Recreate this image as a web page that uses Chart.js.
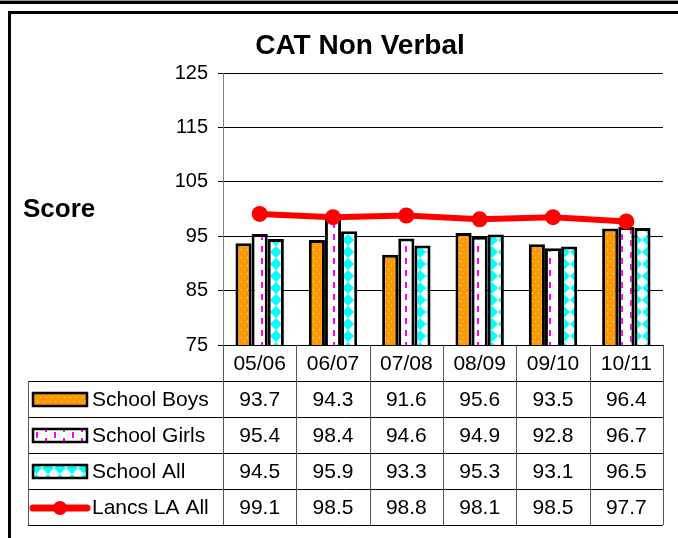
<!DOCTYPE html>
<html>
<head>
<meta charset="utf-8">
<script src="https://cdn.jsdelivr.net/npm/chart.js@4"></script>
<style>
  body { margin: 0; background: #fff; }
  #wrap { width: 678px; height: 538px; position: relative; }
</style>
</head>
<body>
<div id="wrap"><canvas id="myChart"></canvas></div>
<script>
// 数据
const years = ["05/06", "06/07", "07/08", "08/09", "09/10", "10/11"];
const schoolBoys = [93.7, 94.3, 91.6, 95.6, 93.5, 96.4];
const schoolGirls = [95.4, 98.4, 94.6, 94.9, 92.8, 96.7];
const schoolAll = [94.5, 95.9, 93.3, 95.3, 93.1, 96.5];
const lancsAll = [99.1, 98.5, 98.8, 98.1, 98.5, 97.7];
const yMin = 75;
const yMax = 125;
const yStep = 10;

Chart.defaults.font.family = "'Liberation Sans', Arial, sans-serif";
Chart.defaults.color = "#000";

// 花纹填充
function makePattern(w, h, drawFn) {
  const c = document.createElement("canvas");
  c.width = w;
  c.height = h;
  const p = c.getContext("2d");
  drawFn(p, w, h);
  return p.createPattern(c, "repeat");
}

// 橙色 + 白点
const boysFill = makePattern(6, 8, (p, w, h) => {
  p.fillStyle = "#ff9900";
  p.fillRect(0, 0, w, h);
  p.fillStyle = "#ffe6c0";
  p.fillRect(1, 1, 1, 1);
  p.fillRect(4, 5, 1, 1);
});

// 白底 + 粉色虚线
const girlsFill = makePattern(18, 12, (p, w, h) => {
  p.fillStyle = "#fff";
  p.fillRect(0, 0, w, h);
  p.fillStyle = "#ff00ff";
  p.fillRect(0, 0, 2, 6);
  p.fillRect(9, 6, 2, 6);
});

// 青色 + 白色菱形
const allFill = makePattern(12, 12, (p, w, h) => {
  p.fillStyle = "#00ffff";
  p.fillRect(0, 0, w, h);
  p.fillStyle = "#fff";
  p.beginPath();
  p.moveTo(6, 0);
  p.lineTo(12, 6);
  p.lineTo(6, 12);
  p.lineTo(0, 6);
  p.closePath();
  p.fill();
});

// 外框 + 背景
const framePlugin = {
  id: "frame",
  beforeDraw(chart) {
    const ctx = chart.ctx;
    ctx.save();
    ctx.fillStyle = "#fff";
    ctx.fillRect(0, 0, chart.width, chart.height);
    ctx.fillStyle = "#999";
    ctx.fillRect(0, 0, chart.width, 1);
    ctx.fillStyle = "#000";
    ctx.fillRect(0, 1, chart.width, 3);
    ctx.fillRect(8, 11, chart.width - 8, 3);
    ctx.fillRect(8, 11, 3, chart.height - 11);
    ctx.restore();
  },
  afterDraw(chart) {
    // Y轴标题 (水平)
    const ctx = chart.ctx;
    ctx.save();
    ctx.fillStyle = "#000";
    ctx.font = "bold 26px 'Liberation Sans', Arial, sans-serif";
    ctx.textAlign = "left";
    ctx.textBaseline = "middle";
    ctx.fillText("Score", 23, 210);
    ctx.restore();
  },
};

// 数据表
const tablePlugin = {
  id: "dataTable",
  afterDraw(chart) {
    const ctx = chart.ctx;
    const xs = chart.scales.x;
    const area = chart.chartArea;
    const colW = xs.width / years.length;
    const rowH = 36;
    const top = xs.bottom;
    const left = 28;
    const rows = chart.data.datasets.length;
    const bottom = top + rows * rowH;

    ctx.save();
    // 横线
    ctx.strokeStyle = "#000";
    ctx.lineWidth = 1;
    for (let k = 0; k <= rows; k++) {
      const y = Math.round(top + k * rowH) + 0.5;
      ctx.beginPath();
      ctx.moveTo(left, y);
      ctx.lineTo(xs.right, y);
      ctx.stroke();
    }
    // 竖线
    ctx.strokeStyle = "#555";
    ctx.beginPath();
    ctx.moveTo(left + 0.5, top);
    ctx.lineTo(left + 0.5, bottom);
    for (let i = 0; i <= years.length; i++) {
      const x = Math.round(xs.left + i * colW) + 0.5;
      ctx.moveTo(x, area.bottom);
      ctx.lineTo(x, bottom);
    }
    ctx.stroke();

    // 每行: 图例 + 数值
    ctx.font = "21px 'Liberation Sans', Arial, sans-serif";
    ctx.textBaseline = "middle";
    chart.data.datasets.forEach((ds, r) => {
      const cy = top + r * rowH + rowH / 2 + 1;
      if (ds.type === "line") {
        ctx.strokeStyle = ds.borderColor;
        ctx.lineWidth = 7;
        ctx.lineCap = "round";
        ctx.beginPath();
        ctx.moveTo(33, cy);
        ctx.lineTo(87, cy);
        ctx.stroke();
        ctx.fillStyle = ds.borderColor;
        ctx.beginPath();
        ctx.arc(60, cy, 7, 0, Math.PI * 2);
        ctx.fill();
      } else {
        ctx.fillStyle = ds.backgroundColor;
        ctx.fillRect(33, cy - 7, 54, 13);
        ctx.strokeStyle = "#000";
        ctx.lineWidth = 2.5;
        ctx.strokeRect(33, cy - 7, 54, 13);
      }
      ctx.fillStyle = "#000";
      ctx.textAlign = "left";
      ctx.fillText(ds.label, 92, cy);
      ctx.textAlign = "center";
      ds.data.forEach((v, i) => {
        ctx.fillText(v.toFixed(1), xs.getPixelForValue(i), cy);
      });
    });
    ctx.restore();
  },
};

const ctx = document.getElementById("myChart").getContext("2d");
new Chart(ctx, {
  type: "bar",
  plugins: [framePlugin, tablePlugin],
  data: {
    labels: years,
    datasets: [
      {
        label: "School Boys",
        data: schoolBoys,
        backgroundColor: boysFill,
        borderColor: "#000",
        borderWidth: 3,
        order: 1,
      },
      {
        label: "School Girls",
        data: schoolGirls,
        backgroundColor: girlsFill,
        borderColor: "#000",
        borderWidth: 3,
        order: 1,
      },
      {
        label: "School All",
        data: schoolAll,
        backgroundColor: allFill,
        borderColor: "#000",
        borderWidth: 3,
        order: 1,
      },
      {
        type: "line",
        label: "Lancs LA All",
        data: lancsAll,
        borderColor: "#ff0000",
        backgroundColor: "#ff0000",
        borderWidth: 6,
        pointRadius: 8,
        pointBorderWidth: 0,
        pointBackgroundColor: "#ff0000",
        order: 0,
      },
    ],
  },
  options: {
    responsive: true,
    maintainAspectRatio: false,
    animation: false,
    layout: {
      padding: { left: 57, right: 15, top: 0, bottom: 157 },
    },
    datasets: {
      bar: {
        categoryPercentage: 0.66,
        barPercentage: 1.0,
      },
    },
    plugins: {
      legend: { display: false },
      tooltip: { enabled: false },
      title: {
        display: true,
        text: "CAT Non Verbal",
        color: "#000",
        font: { size: 28, weight: "bold" },
        padding: { top: 29, bottom: 10.4 },
      },
    },
    scales: {
      x: {
        grid: { display: false },
        border: { display: false },
        ticks: {
          color: "#000",
          font: { size: 21 },
          padding: -1,
        },
        afterFit: (scale) => {
          scale.height = 36;
        },
      },
      y: {
        min: yMin,
        max: yMax,
        grid: {
          color: "#000",
          lineWidth: 1,
          tickLength: 5,
          tickColor: "#000",
        },
        border: { color: "#808080", width: 1 },
        ticks: {
          stepSize: yStep,
          color: "#000",
          font: { size: 20 },
          padding: 10,
        },
        afterFit: (scale) => {
          scale.height = undefined;
          scale.width = 166;
        },
      },
    },
  },
});
</script>
</body>
</html>
